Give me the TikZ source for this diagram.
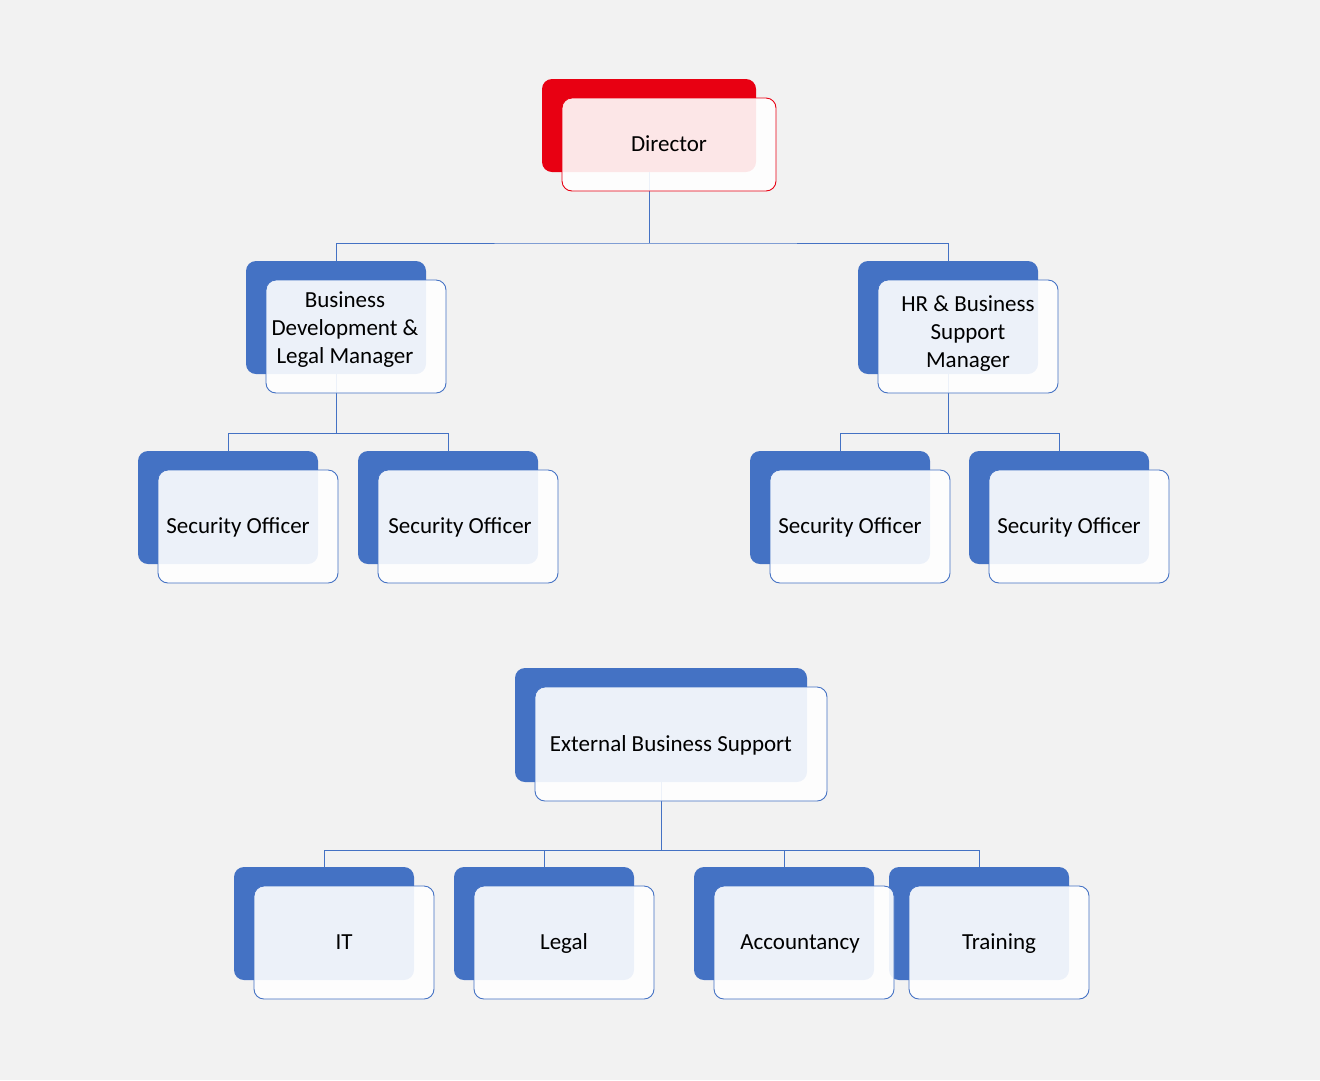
\documentclass[tikz,border=0pt]{standalone}
\usepackage{fontspec}
\setmainfont{Carlito}
\usetikzlibrary{calc}
\definecolor{accblue}{RGB}{68,114,196}
\definecolor{accred}{RGB}{232,0,18}
\definecolor{bgray}{RGB}{242,242,242}

\begin{document}
\begin{tikzpicture}[x=1pt,y=-1pt]
	\fontsize{23}{28}\selectfont
	\tikzstyle{every node}+=[inner sep=0pt]
	\tikzstyle{back}=[rectangle, rounded corners=10pt, fill=accblue, minimum width=180pt, minimum height=113pt]
	\tikzstyle{front}=[rectangle, rounded corners=10pt, fill=white, fill opacity=0.9, draw=accblue, line width=0.9pt, minimum width=180pt, minimum height=113pt]
	\tikzstyle{label}=[anchor=base, text opacity=1]
	\tikzstyle{link}=[accblue, line width=1pt]
	\fill [bgray] (0,0) rectangle (1320,1080);
	\node[back, fill=accred, minimum width=214pt, minimum height=93pt] (dir) at (649,125.5) {};
	\node[back] (bd) at (336,317.5) {};
	\node[back] (hr) at (948,317.5) {};
	\node[back] (so1) at (228,507.5) {};
	\node[back] (so2) at (448,507.5) {};
	\node[back] (so3) at (840,507.5) {};
	\node[back] (so4) at (1059,507.5) {};
	\node[back, minimum width=292pt, minimum height=114pt] (ebs) at (661,725) {};
	\node[back] (it) at (324,923.5) {};
	\node[back] (legal) at (544,923.5) {};
	\node[back] (acc) at (784,923.5) {};
	\node[back] (train) at (979,923.5) {};
	\coordinate (b1) at (649,243);
	\coordinate (b2) at (336,433);
	\coordinate (b3) at (948,433);
	\coordinate (b4) at (661,850);
	\draw[link] (dir.south) -- (b1);
	\draw[link] (bd.north) |- (b1) -| (hr.north);
	\draw[link] (bd.south) -- (b2);
	\draw[link] (so1.north) |- (b2) -| (so2.north);
	\draw[link] (hr.south) -- (b3);
	\draw[link] (so3.north) |- (b3) -| (so4.north);
	\draw[link] (ebs.south) -- (b4);
	\draw[link] (it.north) |- (b4) -| (train.north);
	\draw[link] (legal.north) -- (legal.north |- b4);
	\draw[link] (acc.north) -- (acc.north |- b4);
	\node[front, draw=accred, minimum width=214pt, minimum height=93pt] (dirf) at ($(dir)+(20,19)$) {};
	\node[front] (bdf) at ($(bd)+(20,19)$) {};
	\node[front] (hrf) at ($(hr)+(20,19)$) {};
	\node[front] (so1f) at ($(so1)+(20,19)$) {};
	\node[front] (so2f) at ($(so2)+(20,19)$) {};
	\node[front] (so3f) at ($(so3)+(20,19)$) {};
	\node[front] (so4f) at ($(so4)+(20,19)$) {};
	\node[front, minimum width=292pt, minimum height=114pt] (ebsf) at ($(ebs)+(20,19)$) {};
	\node[front] (itf) at ($(it)+(20,19)$) {};
	\node[front] (legalf) at ($(legal)+(20,19)$) {};
	\node[front] (accf) at ($(acc)+(20,19)$) {};
	\node[front] (trainf) at ($(train)+(20,19)$) {};
	\node[label] (dirt) at (669,151) {Director};
	\node[align=center] (bdt) at (345,330) {Business\\Development \&\\Legal Manager};
	\node[align=center] (hrt) at (968,334) {HR \& Business\\Support\\Manager};
	\node[label] (so1t) at (238,533) {Security Officer};
	\node[label] (so2t) at (460,533) {Security Officer};
	\node[label] (so3t) at (850,533) {Security Officer};
	\node[label] (so4t) at (1069,533) {Security Officer};
	\node[label] (ebst) at (671,751) {External Business Support};
	\node[label] (itt) at (344,949) {IT};
	\node[label] (legalt) at (564,949) {Legal};
	\node[label] (acct) at (800,949) {Accountancy};
	\node[label] (traint) at (999,949) {Training};
\end{tikzpicture}
\end{document}
